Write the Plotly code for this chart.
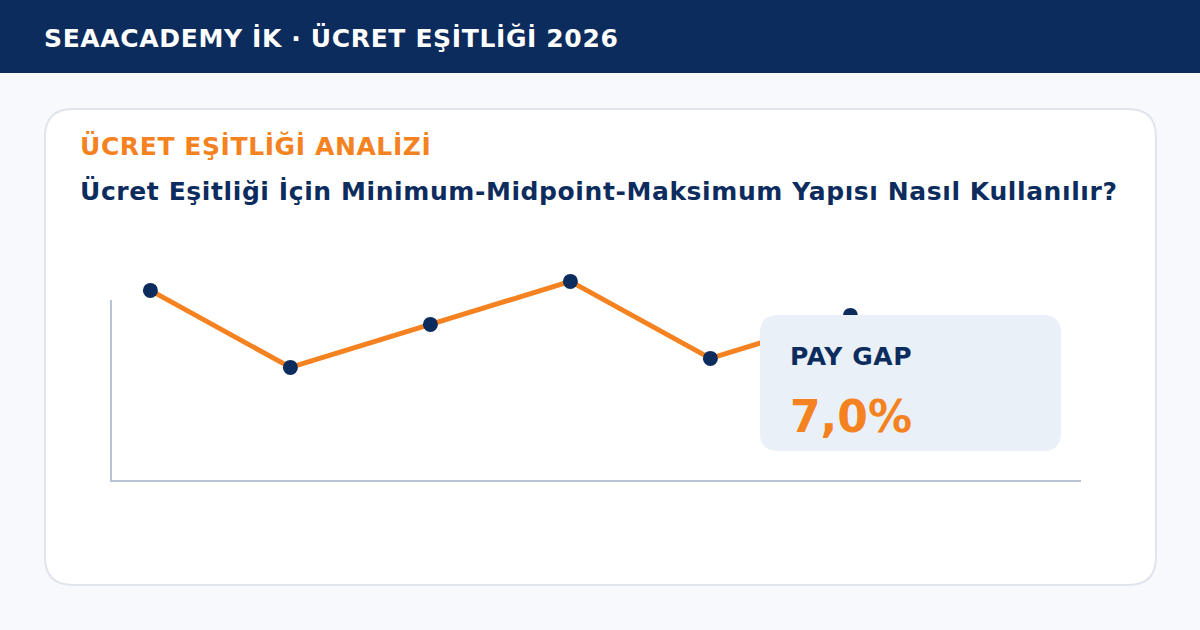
import plotly.graph_objects as go

# Data
positions = [1, 2, 3, 4, 5, 6]
values = [190, 113, 156, 199, 122, 165]
header_text = "SEAACADEMY İK · ÜCRET EŞİTLİĞİ 2026"
kicker_text = "ÜCRET EŞİTLİĞİ ANALİZİ"
title_text = "Ücret Eşitliği İçin Minimum-Midpoint-Maksimum Yapısı Nasıl Kullanılır?"
callout_label = "PAY GAP"
callout_value = "7,0%"

W, H = 1200, 630
NAVY = "#0d2c5e"
ORANGE = "#f58220"
AXIS = "#b8c4d6"


def fx(px):
    return px / W


def fy(py):
    return 1 - py / H


def rounded(x0, y0, x1, y1, r):
    pts = [
        f"M {fx(x0 + r)} {fy(y0)}",
        f"L {fx(x1 - r)} {fy(y0)}",
        f"Q {fx(x1)} {fy(y0)} {fx(x1)} {fy(y0 + r)}",
        f"L {fx(x1)} {fy(y1 - r)}",
        f"Q {fx(x1)} {fy(y1)} {fx(x1 - r)} {fy(y1)}",
        f"L {fx(x0 + r)} {fy(y1)}",
        f"Q {fx(x0)} {fy(y1)} {fx(x0)} {fy(y1 - r)}",
        f"L {fx(x0)} {fy(y0 + r)}",
        f"Q {fx(x0)} {fy(y0)} {fx(x0 + r)} {fy(y0)}",
        "Z",
    ]
    return " ".join(pts)


fig = go.Figure(
    go.Scatter(
        x=positions,
        y=values,
        mode="lines+markers",
        line=dict(color=ORANGE, width=5),
        marker=dict(color=NAVY, size=15),
        cliponaxis=False,
        hoverinfo="skip",
    )
)

shapes = [
    dict(type="rect", xref="paper", yref="paper", x0=0, x1=1, y0=fy(73), y1=1,
         fillcolor=NAVY, line_width=0, layer="below"),
    dict(type="path", xref="paper", yref="paper", path=rounded(45, 109, 1156, 585, 28),
         fillcolor="#ffffff", line=dict(color="#dfe4ed", width=2), layer="below"),
    dict(type="line", xref="paper", yref="paper", x0=fx(111), x1=fx(111), y0=fy(300), y1=fy(482),
         line=dict(color=AXIS, width=2), layer="below"),
    dict(type="path", xref="paper", yref="paper", path=rounded(760, 315, 1061, 451, 18),
         fillcolor="#e9f0f8", line_width=0, layer="above"),
]


def label(text, x, y, size, color):
    return dict(text=text, x=fx(x), y=fy(y), xref="paper", yref="paper", xanchor="left",
                yanchor="middle", showarrow=False, align="left",
                font=dict(family="DejaVu Sans", size=size, color=color, weight="bold"))


annotations = [
    label(header_text, 42, 38, 25, "#ffffff"),
    label(kicker_text, 78, 146, 25, ORANGE),
    label(title_text, 78, 190.5, 25, NAVY),
    label(callout_label, 788, 356, 25, NAVY),
    label(callout_value, 788, 416, 44, ORANGE),
]

axis_line = dict(showgrid=False, zeroline=False, showticklabels=False, ticks="", fixedrange=True)

fig.update_layout(
    width=W,
    height=H,
    margin=dict(l=0, r=0, t=0, b=0),
    paper_bgcolor="#f7f9fc",
    plot_bgcolor="rgba(0,0,0,0)",
    showlegend=False,
    shapes=shapes,
    annotations=annotations,
    xaxis=dict(domain=[fx(110), fx(1081)], range=[1 - 40.4 / 140, 1 + 930.6 / 140],
               showline=True, linecolor=AXIS, linewidth=2, **axis_line),
    yaxis=dict(domain=[fy(480), fy(270)], range=[0.4, 210.4], showline=False, **axis_line),
)

post = """
document.body.style.margin='0';
document.querySelectorAll('.annotation-text').forEach(function(t){
  var c = t.textContent;
  if (c === '7,0%') { return; }
  t.style.letterSpacing = (c.indexOf('SEAACADEMY') === 0) ? '0.64px' : '0.6px';
});
"""

fig.write_html("out.html", config={"displayModeBar": False}, post_script=post)
